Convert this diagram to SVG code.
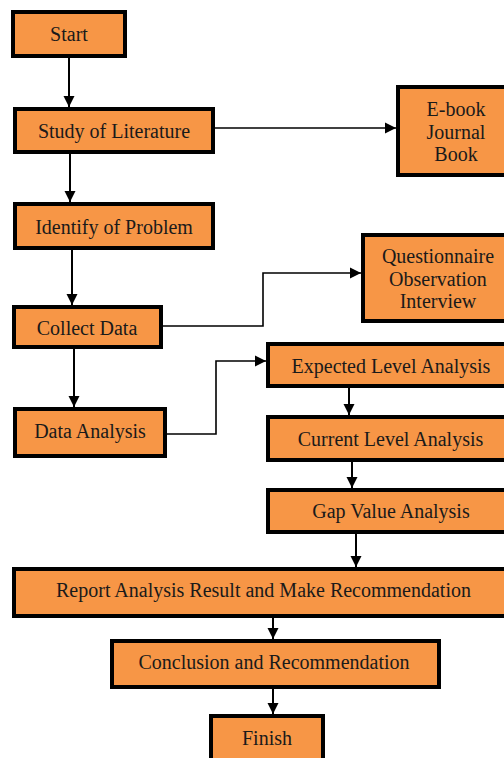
<svg xmlns="http://www.w3.org/2000/svg" width="504" height="758" viewBox="0 0 504 758">
<style>
.box{fill:#F79646;stroke:#000;stroke-width:4}
.t{font-family:"Liberation Serif","Times New Roman",serif;font-size:20px;fill:#1a1a1a;text-anchor:middle}
.c{fill:none;stroke:#000;stroke-width:2}
.h{fill:none;stroke:#000;stroke-width:1.6}
</style>
<defs>
<marker id="ah" markerUnits="userSpaceOnUse" markerWidth="12" markerHeight="12" refX="11" refY="6" orient="auto">
<path d="M0,0.5 L11,6 L0,11.5 z" fill="#000"/>
</marker>
</defs>
<rect width="504" height="758" fill="#fff"/>
<g id="connectors">
<path class="c" d="M69,58 V107" marker-end="url(#ah)"/>
<path class="c" d="M70,154 V202" marker-end="url(#ah)"/>
<path class="c" d="M72,250 V305" marker-end="url(#ah)"/>
<path class="c" d="M74,349 V407" marker-end="url(#ah)"/>
<path class="h" d="M215,128 H396" marker-end="url(#ah)"/>
<path class="h" d="M163,326 H263 V273 H361" marker-end="url(#ah)"/>
<path class="h" d="M167,434 H216 V361 H266" marker-end="url(#ah)"/>
<path class="c" d="M349,388 V415" marker-end="url(#ah)"/>
<path class="c" d="M352,462 V488" marker-end="url(#ah)"/>
<path class="c" d="M356,534 V567" marker-end="url(#ah)"/>
<path class="c" d="M273,618 V639" marker-end="url(#ah)"/>
<path class="c" d="M273,689 V714" marker-end="url(#ah)"/>
</g>
<g id="start"><rect class="box" x="13" y="12" width="112" height="44"/><text class="t" x="69" y="40.5">Start</text></g>
<g id="study"><rect class="box" x="15" y="109" width="198" height="43"/><text class="t" x="114" y="138">Study of Literature</text></g>
<g id="identify"><rect class="box" x="15" y="204" width="198" height="44"/><text class="t" x="114" y="233.5">Identify of Problem</text></g>
<g id="collect"><rect class="box" x="14" y="307" width="147" height="40"/><text class="t" x="87" y="335">Collect Data</text></g>
<g id="dataanalysis"><rect class="box" x="15" y="409" width="150" height="47"/><text class="t" x="90" y="438">Data Analysis</text></g>
<g id="ebook"><rect class="box" x="398" y="87" width="120" height="88"/><text class="t" x="456" y="116">E-book</text><text class="t" x="456" y="139">Journal</text><text class="t" x="456" y="161">Book</text></g>
<g id="questionnaire"><rect class="box" x="363" y="235" width="150" height="86"/><text class="t" x="438" y="263">Questionnaire</text><text class="t" x="438" y="286">Observation</text><text class="t" x="438" y="308">Interview</text></g>
<g id="expected"><rect class="box" x="268" y="344" width="250" height="42"/><text class="t" x="391" y="373">Expected Level Analysis</text></g>
<g id="current"><rect class="box" x="268" y="417" width="250" height="43"/><text class="t" x="390.5" y="446">Current Level Analysis</text></g>
<g id="gap"><rect class="box" x="268" y="490" width="250" height="42"/><text class="t" x="391" y="518">Gap Value Analysis</text></g>
<g id="report"><rect class="box" x="14" y="569" width="500" height="47"/><text class="t" x="263.5" y="597">Report Analysis Result and Make Recommendation</text></g>
<g id="conclusion"><rect class="box" x="112" y="641" width="327" height="46"/><text class="t" x="274" y="669">Conclusion and Recommendation</text></g>
<g id="finish"><rect class="box" x="211" y="716" width="112" height="60"/><text class="t" x="267" y="745">Finish</text></g>
</svg>
